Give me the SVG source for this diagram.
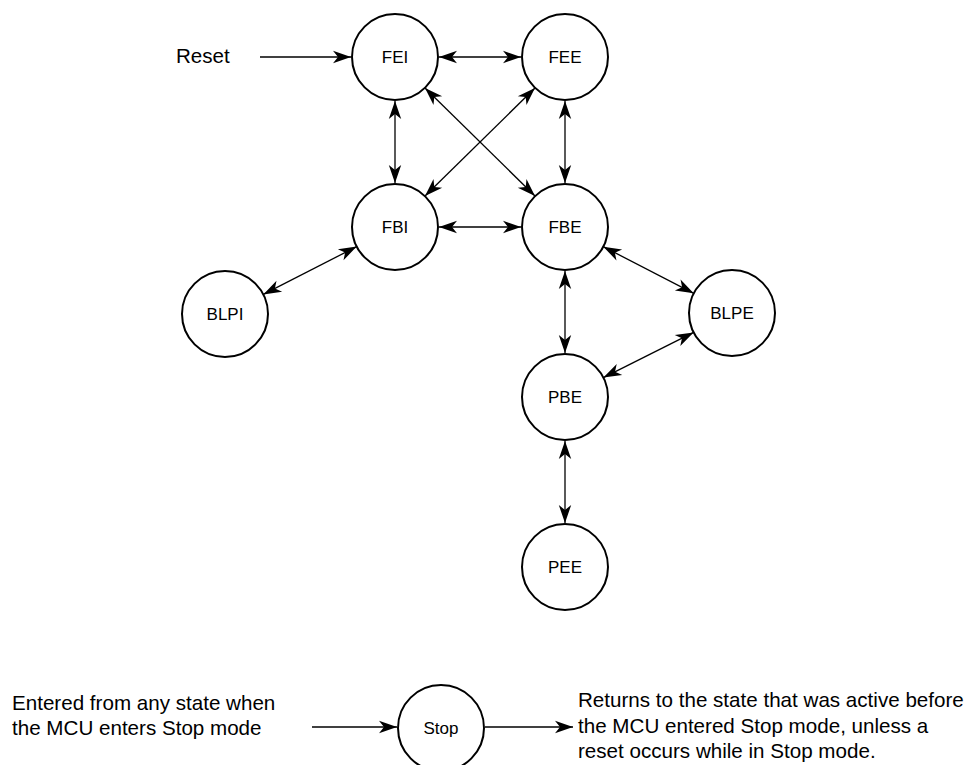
<svg xmlns="http://www.w3.org/2000/svg" width="965" height="765" viewBox="0 0 965 765">
<style>
.node circle{fill:#fff;stroke:#000;stroke-width:2}
.node text{font-family:"Liberation Sans",Arial,sans-serif;font-size:17px;text-anchor:middle;fill:#000}
.lbl{font-family:"Liberation Sans",Arial,sans-serif;font-size:20.6px;fill:#000}
.c line{stroke:#000;stroke-width:1.3;fill:none}
.bi{marker-start:url(#ah);marker-end:url(#ah)}
.uni{marker-end:url(#ah)}
</style>
<defs>
<marker id="ah" markerUnits="userSpaceOnUse" markerWidth="20" markerHeight="14" viewBox="0 0 20 14" refX="19" refY="7" orient="auto-start-reverse">
<path d="M19,7 L1,0.8 L6,7 L1,13.2 Z" fill="#000"/>
</marker>
</defs>
<g id="connectors" class="c">
<line class="uni" x1="260" y1="57" x2="351" y2="57"/>
<line class="bi" x1="439" y1="57" x2="521" y2="57"/>
<line class="bi" x1="395" y1="101" x2="395" y2="183"/>
<line class="bi" x1="565" y1="101" x2="565" y2="183"/>
<line class="bi" x1="425" y1="88" x2="535" y2="196"/>
<line class="bi" x1="535" y1="88" x2="425" y2="196"/>
<line class="bi" x1="439" y1="227" x2="521" y2="227"/>
<line class="bi" x1="356.7" y1="246.6" x2="263.3" y2="294.4"/>
<line class="bi" x1="603.3" y1="246.7" x2="693.7" y2="293.3"/>
<line class="bi" x1="565" y1="271" x2="565" y2="353"/>
<line class="bi" x1="603.4" y1="377.6" x2="693.6" y2="332.4"/>
<line class="bi" x1="565" y1="441" x2="565" y2="523"/>
<line class="uni" x1="312" y1="727" x2="397" y2="727"/>
<line class="uni" x1="485" y1="727" x2="573" y2="727"/>
</g>
<text class="lbl" x="176" y="63">Reset</text>
<g id="FEI" class="node"><circle cx="395" cy="57" r="43"/><text x="395" y="63">FEI</text></g>
<g id="FEE" class="node"><circle cx="565" cy="57" r="43"/><text x="565" y="63">FEE</text></g>
<g id="FBI" class="node"><circle cx="395" cy="227" r="43"/><text x="395" y="233">FBI</text></g>
<g id="FBE" class="node"><circle cx="565" cy="227" r="43"/><text x="565" y="233">FBE</text></g>
<g id="BLPI" class="node"><circle cx="225" cy="314" r="43"/><text x="225" y="320">BLPI</text></g>
<g id="BLPE" class="node"><circle cx="732" cy="313" r="43"/><text x="732" y="319">BLPE</text></g>
<g id="PBE" class="node"><circle cx="565" cy="397" r="43"/><text x="565" y="403">PBE</text></g>
<g id="PEE" class="node"><circle cx="565" cy="567" r="43"/><text x="565" y="573">PEE</text></g>
<g id="Stop" class="node"><circle cx="441" cy="728" r="43"/><text x="441" y="734">Stop</text></g>
<text class="lbl" x="12" y="710">Entered from any state when</text>
<text class="lbl" x="12" y="735">the MCU enters Stop mode</text>
<text class="lbl" x="578" y="707">Returns to the state that was active before</text>
<text class="lbl" x="578" y="733">the MCU entered Stop mode, unless a</text>
<text class="lbl" x="578" y="758">reset occurs while in Stop mode.</text>
</svg>
